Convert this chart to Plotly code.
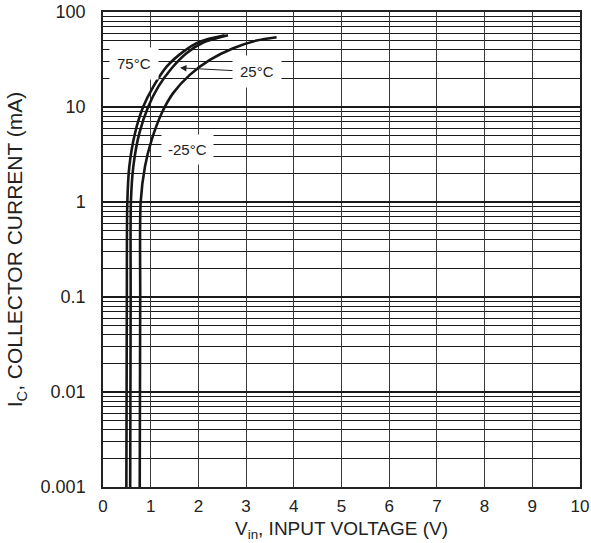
import numpy as np
import plotly.graph_objects as go

# ---- data ----
v_75 = [0.49, 0.495, 0.50, 0.51, 0.552, 0.671, 0.845, 1.055, 1.335, 1.684, 2.03, 2.55]
i_75 = [0.001, 0.01, 0.1, 1, 2.37, 5.3, 10.1, 16.4, 26.6, 38.3, 48.8, 57]

v_25 = [0.57, 0.575, 0.58, 0.585, 0.636, 0.762, 0.95, 1.16, 1.44, 1.75, 2.10, 2.62]
i_25 = [0.001, 0.01, 0.1, 1, 2.37, 5.3, 10.1, 16.4, 25.6, 36.8, 47.7, 57]

v_m25 = [0.77, 0.775, 0.78, 0.79, 0.88, 1.02, 1.23, 1.47, 1.82, 2.24, 2.73, 3.22, 3.64]
i_m25 = [0.001, 0.01, 0.1, 1, 2.37, 4.5, 8.6, 14, 21.8, 31.3, 41.6, 50, 54.2]

x_ticks = list(range(0, 11))
y_ticks = [0.001, 0.01, 0.1, 1, 10, 100]
y_ticktext = ["0.001", "0.01", "0.1", "1", "10", "100"]
minor_vals = [m * d for d in [0.001, 0.01, 0.1, 1, 10] for m in range(2, 10)]

FONT = "Liberation Sans, Arial, sans-serif"
LINE = "#161616"

fig = go.Figure()
for v, i, name in [(v_75, i_75, "75°C"), (v_25, i_25, "25°C"), (v_m25, i_m25, "-25°C")]:
    fig.add_trace(go.Scatter(x=v, y=i, mode="lines", name=name,
                             line=dict(color=LINE, width=2.6, shape="spline", smoothing=0.8),
                             showlegend=False, hoverinfo="skip"))

fig.update_layout(
    width=591, height=543,
    margin=dict(l=103, r=11, t=12, b=56, autoexpand=False),
    paper_bgcolor="white", plot_bgcolor="white",
    font=dict(family=FONT, color="#222", size=17),
)

fig.update_xaxes(
    range=[0, 10], tickvals=x_ticks, ticktext=[str(t) for t in x_ticks],
    showgrid=True, gridcolor="#3a3a3a", gridwidth=1.2,
    showline=True, linecolor="#222", linewidth=1.5, mirror=True,
    ticks="", ticklabelstandoff=3, zeroline=False,
    tickfont=dict(size=17),
)
fig.update_yaxes(
    type="log", range=[-3, 2], tickvals=y_ticks, ticktext=y_ticktext,
    showgrid=True, gridcolor="#1a1a1a", gridwidth=2,
    minor=dict(tickvals=minor_vals, showgrid=True, gridcolor="#1a1a1a", gridwidth=1, ticks=""),
    showline=True, linecolor="#222", linewidth=1.5, mirror=True,
    ticks="", ticklabelstandoff=12, zeroline=False,
    tickfont=dict(size=18),
    title=dict(text="I<sub>C</sub>, COLLECTOR CURRENT (mA)", font=dict(size=21), standoff=12),
)

# x-axis title placed at the bottom edge of the figure
fig.add_annotation(x=0.5, y=0, xref="paper", yref="paper", yanchor="bottom",
                   yshift=-57, showarrow=False,
                   text="V<sub>in</sub>, INPUT VOLTAGE (V)", font=dict(family=FONT, size=19, color="#222"))

ann_font = dict(family=FONT, size=15, color="#222")
fig.add_annotation(x=0.65, y=1.459, xref="x", yref="y", text="75°C", showarrow=False,
                   bgcolor="white", borderpad=7, font=ann_font)
fig.add_annotation(x=1.614, y=1.412, xref="x", yref="y", text="25°C", showarrow=True,
                   ax=77, ay=4, arrowhead=2, arrowsize=1.3, arrowwidth=1, arrowcolor="#222",
                   bgcolor="white", borderpad=7, font=ann_font)
fig.add_annotation(x=1.78, y=0.55, xref="x", yref="y", text="-25°C", showarrow=False,
                   bgcolor="white", borderpad=6, font=ann_font)

fig.write_html("out.html")
